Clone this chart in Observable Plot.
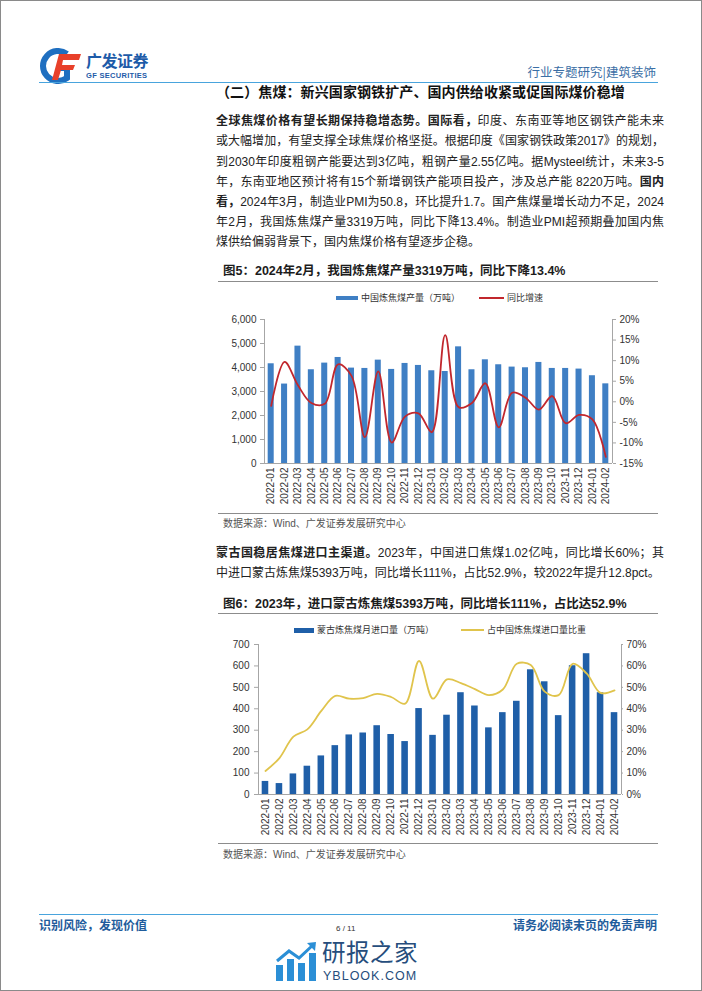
<!DOCTYPE html>
<html><head><meta charset="utf-8">
<script src="https://cdn.jsdelivr.net/npm/d3@7"></script>
<script src="https://cdn.jsdelivr.net/npm/@observablehq/plot@0.6"></script>
<style>
body{margin:0;background:#fff;}
#page{position:relative;width:700px;height:989px;border:1px solid #8a8a8a;overflow:hidden;font-family:"Liberation Sans","Noto Sans CJK SC",sans-serif;color:#222;background:#fff;}
.abs{position:absolute;white-space:nowrap;}
.pl{position:absolute;left:215px;width:448px;font-size:12px;line-height:16px;text-align:justify;text-align-last:justify;white-space:nowrap;color:#222;}
.pl.last{text-align-last:left;}
.figt{position:absolute;left:222px;font-size:12.5px;font-weight:bold;color:#1c1c1c;line-height:16px;}
.rule{position:absolute;left:217px;width:440px;height:0;border-top:1.5px solid #8c8c8c;}
.src{position:absolute;left:222px;font-size:10px;color:#555;line-height:12px;}
.leg{position:absolute;font-size:9px;color:#333;line-height:12px;display:flex;align-items:center;white-space:nowrap;}
.sw{display:inline-block;margin-right:3px;}
.chart{position:absolute;left:200px;}
</style></head>
<body>
<div id="page">
  <!-- header -->
  <svg class="abs" style="left:36px;top:47px" width="48" height="36" viewBox="0 0 48 36">
    <path d="M30 6 A15 15 0 1 0 30 30 L30 20 L22 20" fill="none" stroke="#1f6fc0" stroke-width="6"/>
    <path d="M22 6 L44 6 L42 12 L26 12 L25 17 L38 17 L36 22 L24 22 L21 32 L15 32 Z" fill="#e8402a"/>
  </svg>
  <div class="abs" style="left:85px;top:51px;font-size:16px;font-weight:bold;color:#1d5ba8;letter-spacing:-0.5px;font-family:'Noto Sans CJK SC';line-height:17px;">广发证券</div>
  <div class="abs" style="left:85px;top:70px;font-size:7.5px;font-weight:bold;color:#1d5ba8;letter-spacing:0.3px;line-height:9px;">GF SECURITIES</div>
  <div class="abs" style="right:45px;top:63px;font-size:12.5px;color:#3a6ea5;line-height:16px;font-family:'Noto Sans CJK SC';">行业专题研究|建筑装饰</div>
  <div class="abs" style="left:38px;top:81px;width:619px;height:0;border-top:1.5px solid #49a4dd;"></div>

  <div class="abs" style="left:215px;top:82px;font-size:14px;font-weight:bold;line-height:18px;color:#111;letter-spacing:0.1px;">（二）焦煤：新兴国家钢铁扩产、国内供给收紧或促国际煤价稳增</div>

  <div class="pl" style="top:112px"><b>全球焦煤价格有望长期保持稳增态势。国际看，</b>印度、东南亚等地区钢铁产能未来</div>
  <div class="pl" style="top:132px">或大幅增加，有望支撑全球焦煤价格坚挺。根据印度《国家钢铁政策2017》的规划，</div>
  <div class="pl" style="top:153px">到2030年印度粗钢产能要达到3亿吨，粗钢产量2.55亿吨。据Mysteel统计，未来3-5</div>
  <div class="pl" style="top:173px">年，东南亚地区预计将有15个新增钢铁产能项目投产，涉及总产能 8220万吨。<b>国内</b></div>
  <div class="pl" style="top:193px"><b>看，</b>2024年3月，制造业PMI为50.8，环比提升1.7。国产焦煤量增长动力不足，2024</div>
  <div class="pl" style="top:213px">年2月，我国炼焦煤产量3319万吨，同比下降13.4%。制造业PMI超预期叠加国内焦</div>
  <div class="pl last" style="top:233px">煤供给偏弱背景下，国内焦煤价格有望逐步企稳。</div>

  <div class="figt" style="top:262px">图5：2024年2月，我国炼焦煤产量3319万吨，同比下降13.4%</div>
  <div class="rule" style="top:280px"></div>
  <div class="leg" style="left:335px;top:291px"><span class="sw" style="width:22px;height:4px;background:#3f7fc4"></span>中国炼焦煤产量（万吨）</div>
  <div class="leg" style="left:478px;top:291px"><span class="sw" style="width:25px;height:2px;background:#c1272d"></span>同比增速</div>
  <div class="chart" id="c1" style="top:306px"></div>
  <div class="rule" style="top:512px"></div>
  <div class="src" style="top:517px">数据来源：Wind、广发证券发展研究中心</div>

  <div class="pl" style="top:544px"><b>蒙古国稳居焦煤进口主渠道。</b>2023年，中国进口焦煤1.02亿吨，同比增长60%；其</div>
  <div class="pl last" style="top:564px">中进口蒙古炼焦煤5393万吨，同比增长111%，占比52.9%，较2022年提升12.8pct。</div>

  <div class="figt" style="top:595px">图6：2023年，进口蒙古炼焦煤5393万吨，同比增长111%，占比达52.9%</div>
  <div class="rule" style="top:612px"></div>
  <div class="leg" style="left:293px;top:623px"><span class="sw" style="width:20px;height:5px;background:#1f5fa8"></span>蒙古炼焦煤月进口量（万吨）</div>
  <div class="leg" style="left:460px;top:623px"><span class="sw" style="width:23px;height:2px;background:#e0c44c"></span>占中国炼焦煤进口量比重</div>
  <div class="chart" id="c2" style="top:636px"></div>
  <div class="rule" style="top:842px"></div>
  <div class="src" style="top:848px">数据来源：Wind、广发证券发展研究中心</div>

  <!-- footer -->
  <div class="abs" style="left:38px;top:913px;width:619px;height:0;border-top:1.5px solid #49a4dd;"></div>
  <div class="abs" style="left:38px;top:916px;font-size:12px;font-weight:bold;color:#1f5c9c;line-height:15px;font-family:'Noto Sans CJK SC';">识别风险，发现价值</div>
  <div class="abs" style="right:44px;top:916px;font-size:12px;font-weight:bold;color:#1f5c9c;line-height:15px;font-family:'Noto Sans CJK SC';">请务必阅读末页的免责声明</div>
  <svg class="abs" style="left:274px;top:940px" width="44" height="40" viewBox="0 0 44 40">
    <rect x="1" y="24" width="7" height="16" fill="#2b8fd6"/>
    <rect x="12" y="18" width="7" height="22" fill="#2b8fd6"/>
    <rect x="23" y="22" width="7" height="18" fill="#2b8fd6"/>
    <rect x="34" y="12" width="7" height="28" fill="#2b8fd6"/>
    <path d="M2 20 L14 10 L24 17 L38 4" fill="none" stroke="#2b8fd6" stroke-width="3"/>
    <path d="M32 2 L41 1 L40 10 Z" fill="#2b8fd6"/>
  </svg>
  <div class="abs" style="left:335px;top:923px;font-size:8px;color:#333;line-height:9px;">6 / 11</div>
  <div class="abs" style="left:321px;top:933px;font-size:23.5px;color:#264d7c;line-height:34px;font-family:'Noto Sans CJK SC';letter-spacing:0.5px;">研报之家</div>
  <div class="abs" style="left:322px;top:968px;font-size:12.5px;color:#264d7c;line-height:15px;letter-spacing:1px;font-family:'Liberation Sans';">YBLOOK.COM</div>
</div>
<script>
const months = ["2022-01","2022-02","2022-03","2022-04","2022-05","2022-06","2022-07","2022-08","2022-09","2022-10","2022-11","2022-12",
  "2023-01","2023-02","2023-03","2023-04","2023-05","2023-06","2023-07","2023-08","2023-09","2023-10","2023-11","2023-12","2024-01","2024-02"];
// 图5: 中国炼焦煤产量（万吨）
const cokingOutput = [4155,3310,4890,3906,4183,4418,3975,3961,4307,3920,4169,4086,3864,3833,4861,3906,4321,4114,4017,3989,4211,3961,3961,3934,3657,3319];
// 图5: 同比增速（%）
const outputYoY = [-1.0,9.7,4.0,-0.3,-0.5,9.1,6.3,-8.6,7.4,-9.9,-3.6,-2.8,-7.4,16.2,-1.3,-0.3,4.5,-6.2,2.2,1.0,-1.9,1.4,-5.2,-3.2,-4.3,-13.4];
// 图6: 蒙古炼焦煤月进口量（万吨）
const mongoliaImports = [61,51,96,132,180,228,278,287,321,280,247,401,276,370,475,413,311,382,435,582,526,368,601,657,475,382];
// 图6: 占中国炼焦煤进口量比重（%）
const mongoliaShare = [11,17,27,30.4,39,46,44.7,45,47,45.5,42.4,62.3,44.7,53.7,52,49.2,46.4,49,61,60.4,48,46.4,61,56.5,47.4,48.6];
// tick labels
const leftTicks1 = [0,1000,2000,3000,4000,5000,6000];
const rightTicks1 = [-15,-10,-5,0,5,10,15,20];
const leftTicks2 = [0,100,200,300,400,500,600,700];
const rightTicks2 = [0,10,20,30,40,50,60,70];

const idx = months.map((m, i) => i);
const axisColor = "#a6a6a6";
const fontStyle = {fontFamily: "Liberation Sans, Arial, sans-serif", fontSize: "10px", color: "#333", background: "transparent", overflow: "visible"};

// chart 1
const to1 = p => (p + 15) / 35 * 6000;
const from1 = v => v / 6000 * 35 - 15;
const c1 = Plot.plot({
  width: 460, height: 200, marginLeft: 63, marginRight: 49, marginTop: 12, marginBottom: 44,
  style: fontStyle,
  x: {type: "linear", domain: [-0.5, months.length - 0.5], axis: null},
  y: {domain: [0, 6000], axis: null},
  marks: [
    Plot.rectY(idx, {x1: i => i - 0.225, x2: i => i + 0.225, y: i => cokingOutput[i], fill: "#3f7fc4"}),
    Plot.line(idx, {x: i => i, y: i => to1(outputYoY[i]), stroke: "#c1272d", strokeWidth: 1.8, curve: "catmull-rom"}),
    Plot.ruleX([-0.5, months.length - 0.5], {stroke: axisColor}),
    Plot.ruleY([0], {stroke: axisColor}),
    Plot.axisY(leftTicks1, {anchor: "left", tickSize: 4, tickPadding: 4, tickFormat: d3.format(","), stroke: axisColor, fill: "#333"}),
    Plot.axisY(rightTicks1.map(to1), {anchor: "right", tickSize: 3, tickPadding: 4, tickFormat: v => Math.round(from1(v)) + "%", stroke: axisColor, fill: "#333"}),
    Plot.axisX(idx, {anchor: "bottom", tickRotate: -90, tickSize: 0, tickPadding: 4, tickFormat: i => months[i], fill: "#333"})
  ]
});
document.getElementById("c1").appendChild(c1);

// chart 2
const to2 = p => p * 10;
const from2 = v => v / 10;
const c2 = Plot.plot({
  width: 460, height: 201, marginLeft: 57, marginRight: 40, marginTop: 7, marginBottom: 44,
  style: fontStyle,
  x: {type: "linear", domain: [-0.5, months.length - 0.5], axis: null},
  y: {domain: [0, 700], axis: null},
  marks: [
    Plot.rectY(idx, {x1: i => i - 0.235, x2: i => i + 0.235, y: i => mongoliaImports[i], fill: "#1f5fa8"}),
    Plot.line(idx, {x: i => i, y: i => to2(mongoliaShare[i]), stroke: "#e0c44c", strokeWidth: 1.8, curve: "catmull-rom"}),
    Plot.ruleX([-0.5, months.length - 0.5], {stroke: axisColor}),
    Plot.ruleY([0], {stroke: axisColor}),
    Plot.axisY(leftTicks2, {anchor: "left", tickSize: 4, tickPadding: 5, stroke: axisColor, fill: "#333"}),
    Plot.axisY(rightTicks2.map(to2), {anchor: "right", tickSize: 1, tickPadding: 4, tickFormat: v => Math.round(from2(v)) + "%", stroke: axisColor, fill: "#333"}),
    Plot.axisX(idx, {anchor: "bottom", tickRotate: -90, tickSize: 0, tickPadding: 4, tickFormat: i => months[i], fill: "#333"})
  ]
});
document.getElementById("c2").appendChild(c2);
</script>
</body></html>
